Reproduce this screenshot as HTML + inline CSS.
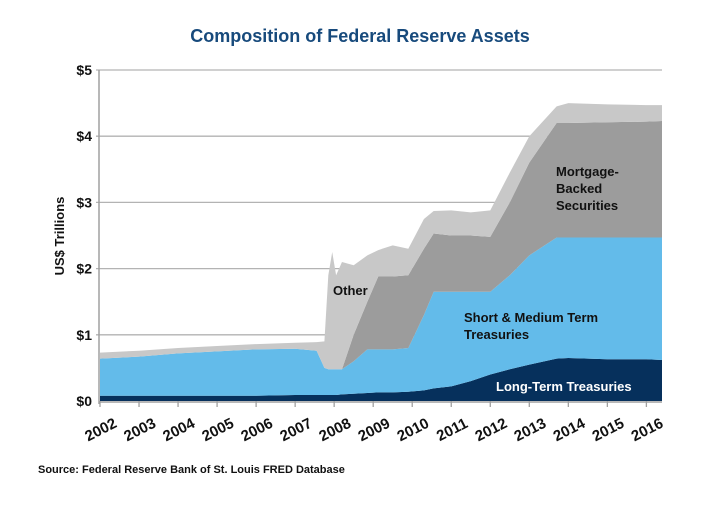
<!DOCTYPE html>
<html><head><meta charset="utf-8"><style>
body{margin:0;background:#fff;width:720px;height:500px;overflow:hidden;font-family:"Liberation Sans",sans-serif;}
svg text{font-family:"Liberation Sans",sans-serif;}
</style></head><body>
<svg id="chart" width="720" height="500">
<text x="360" y="42" text-anchor="middle" font-size="18" font-weight="bold" fill="#174a7c">Composition of Federal Reserve Assets</text>
<g id="grid"></g><g id="areas"></g><g id="axes"></g>
<text transform="translate(64,236) rotate(-90)" text-anchor="middle" font-size="13" font-weight="bold" fill="#111">US$ Trillions</text>
<text x="333" y="295" font-size="13" font-weight="bold" fill="#111">Other</text>
<text x="556" y="176" font-size="13" font-weight="bold" fill="#111"><tspan x="556">Mortgage-</tspan><tspan x="556" dy="17">Backed</tspan><tspan x="556" dy="17">Securities</tspan></text>
<text x="464" y="322" font-size="13" font-weight="bold" fill="#111"><tspan x="464">Short &amp; Medium Term</tspan><tspan x="464" dy="17">Treasuries</tspan></text>
<text x="496" y="391" font-size="13" font-weight="bold" fill="#fff">Long-Term Treasuries</text>
<text x="38" y="473" font-size="11" font-weight="bold" fill="#111">Source: Federal Reserve Bank of St. Louis FRED Database</text>
</svg>
<script>
const times=[2002,2003,2004,2005,2006,2007,2007.55,2007.75,2007.85,2007.95,2008.05,2008.2,2008.5,2008.85,2009.13,2009.5,2009.9,2010.3,2010.55,2011,2011.5,2012,2012.5,2013,2013.7,2014,2015,2016,2016.4];
const longTerm=[.08,.08,.08,.08,.08,.09,.09,.09,.09,.09,.09,.10,.11,.12,.13,.13,.14,.16,.19,.22,.30,.40,.48,.55,.64,.65,.63,.63,.62];
const shortMedium=[.56,.59,.64,.67,.70,.70,.67,.41,.39,.39,.39,.38,.49,.66,.65,.65,.66,1.14,1.46,1.43,1.35,1.25,1.42,1.65,1.83,1.82,1.84,1.84,1.85];
const mbs=[0,0,0,0,0,0,0,0,0,0,0,0,.40,.72,1.10,1.10,1.10,1.0,.88,.85,.85,.83,1.10,1.40,1.73,1.73,1.74,1.75,1.76];
const other=[.09,.09,.08,.08,.08,.09,.13,.40,1.42,1.77,1.42,1.62,1.05,.70,.40,.47,.40,.45,.34,.38,.35,.40,.45,.40,.25,.30,.27,.25,.24];
const yTicks=[0,1,2,3,4,5];
const yLabels=["$0","$1","$2","$3","$4","$5"];
const xYears=[2002,2003,2004,2005,2006,2007,2008,2009,2010,2011,2012,2013,2014,2015,2016];
const NS="http://www.w3.org/2000/svg";
const X0=100,X1=662,T0=2002,T1=2016.4,Y0=401,YS=66.2;
const xs=t=>X0+(t-T0)/(T1-T0)*(X1-X0);
const ys=v=>Y0-v*YS;
function mk(tag,attrs,parent){const e=document.createElementNS(NS,tag);for(const k in attrs)e.setAttribute(k,attrs[k]);parent.appendChild(e);return e;}
const grid=document.getElementById('grid'),areas=document.getElementById('areas'),axes=document.getElementById('axes');
yTicks.forEach((v,i)=>{
  if(v>0){const l=mk('line',{x1:X0-4,x2:X1,y1:ys(v),y2:ys(v),stroke:'#b3b3b3','stroke-width':1.3},grid);
  
  }
  const t=mk('text',{x:92,y:ys(v)+5,'text-anchor':'end','font-size':14,'font-weight':'bold',fill:'#111'},axes);
  t.textContent=yLabels[i];
  
  
});
const series=[longTerm,shortMedium,mbs,other];
const colors=['#06305c','#63bbea','#9c9c9c','#c8c8c8'];
const names=['area-long-term','area-short-medium','area-mbs','area-other'];
let base=times.map(()=>0);
series.forEach((s,k)=>{
  const top=base.map((b,i)=>b+s[i]);
  let d='M'+times.map((t,i)=>xs(t)+','+ys(top[i])).join('L');
  for(let i=times.length-1;i>=0;i--)d+='L'+xs(times[i])+','+ys(base[i]);
  const p=mk('path',{d:d+'Z',fill:colors[k]},areas);
  
  
  base=top;
});
const ax=mk('line',{x1:X0-1,x2:X0-1,y1:ys(5),y2:Y0+3,stroke:'#a0a0a0','stroke-width':1.5},axes);


const bx=mk('line',{x1:X0-1,x2:X1,y1:Y0+1,y2:Y0+1,stroke:'#a0a0a0','stroke-width':1.5},axes);


xYears.forEach(y=>{
  const x=xs(y);
  const tk=mk('line',{x1:x,x2:x,y1:Y0,y2:Y0+6,stroke:'#a0a0a0','stroke-width':1.3},axes);
  
  
  const t=mk('text',{transform:`translate(${x+3},${Y0+33}) rotate(-27)`,'text-anchor':'middle','font-size':15,'font-weight':'bold',fill:'#111'},axes);
  t.textContent=String(y);
  
  
});
</script>
</body></html>
